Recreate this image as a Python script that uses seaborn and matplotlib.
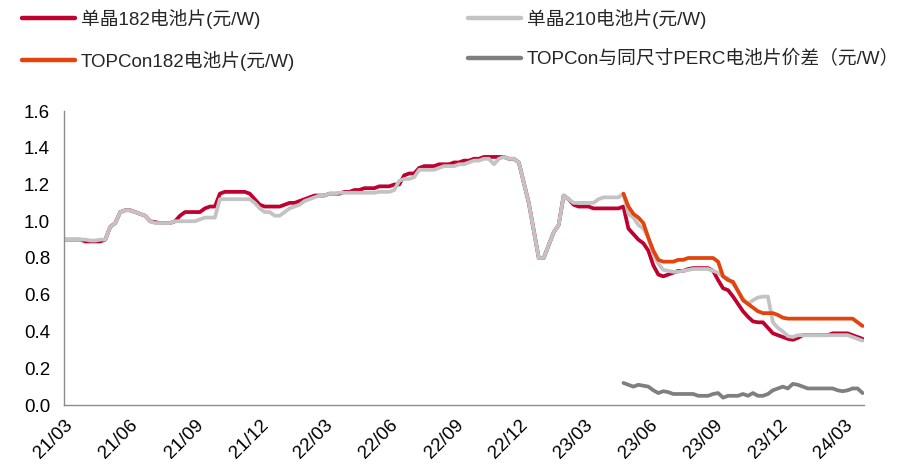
import matplotlib
matplotlib.use("Agg")
import matplotlib.pyplot as plt
import matplotlib.dates as mdates
from matplotlib.lines import Line2D
import seaborn as sns
import pandas as pd
import numpy as np

# Weekly cell prices (yuan/W)
start_all = "2021-03-03"
start_topcon = "2023-04-26"

mono182 = [
    0.90, 0.90, 0.90, 0.90, 0.89, 0.89, 0.89, 0.89, 0.90, 0.97,
    0.99, 1.05, 1.06, 1.06, 1.05, 1.04, 1.03, 1.00, 0.995, 0.99,
    0.99, 0.99, 1.00, 1.03, 1.05, 1.05, 1.05, 1.05, 1.07, 1.08,
    1.08, 1.15, 1.16, 1.16, 1.16, 1.16, 1.16, 1.15, 1.12, 1.09,
    1.08, 1.08, 1.08, 1.08, 1.09, 1.10, 1.10, 1.11, 1.12, 1.13,
    1.14, 1.14, 1.14, 1.15, 1.15, 1.15, 1.16, 1.16, 1.17, 1.17,
    1.18, 1.18, 1.18, 1.19, 1.19, 1.19, 1.20, 1.20, 1.25, 1.26,
    1.26, 1.29, 1.30, 1.30, 1.30, 1.31, 1.31, 1.31, 1.32, 1.32,
    1.33, 1.33, 1.34, 1.34, 1.35, 1.35, 1.35, 1.35, 1.35, 1.34,
    1.34, 1.32, 1.21, 1.10, 0.95, 0.80, 0.80, 0.87, 0.94, 0.98,
    1.14, 1.12, 1.09, 1.08, 1.08, 1.08, 1.07, 1.07, 1.07, 1.07,
    1.07, 1.07, 1.08, 0.96, 0.93, 0.90, 0.88, 0.84, 0.76, 0.71,
    0.70, 0.71, 0.72, 0.73, 0.73, 0.74, 0.745, 0.745, 0.745, 0.745,
    0.73, 0.68, 0.635, 0.625, 0.59, 0.55, 0.51, 0.48, 0.455, 0.45,
    0.45, 0.42, 0.39, 0.38, 0.37, 0.36, 0.355, 0.365, 0.38, 0.38,
    0.38, 0.38, 0.38, 0.38, 0.39, 0.39, 0.39, 0.39, 0.38, 0.37,
    0.36,
]

mono210 = [
    0.90, 0.90, 0.90, 0.90, 0.90, 0.895, 0.895, 0.90, 0.90, 0.97,
    0.99, 1.05, 1.06, 1.06, 1.05, 1.04, 1.03, 1.00, 0.99, 0.99,
    0.99, 0.99, 1.00, 1.00, 1.00, 1.00, 1.00, 1.01, 1.02, 1.02,
    1.02, 1.12, 1.12, 1.12, 1.12, 1.12, 1.12, 1.12, 1.10, 1.07,
    1.05, 1.05, 1.03, 1.03, 1.05, 1.07, 1.08, 1.09, 1.11, 1.12,
    1.13, 1.14, 1.14, 1.15, 1.15, 1.155, 1.155, 1.155, 1.155, 1.155,
    1.155, 1.155, 1.155, 1.16, 1.16, 1.16, 1.17, 1.22, 1.23, 1.23,
    1.24, 1.28, 1.28, 1.28, 1.28, 1.29, 1.30, 1.30, 1.30, 1.31,
    1.31, 1.32, 1.33, 1.33, 1.34, 1.34, 1.31, 1.34, 1.35, 1.34,
    1.34, 1.32, 1.21, 1.10, 0.95, 0.80, 0.80, 0.87, 0.94, 0.98,
    1.14, 1.12, 1.10, 1.10, 1.10, 1.10, 1.10, 1.12, 1.13, 1.13,
    1.13, 1.13, 1.15, 1.04, 1.02, 0.98, 0.96, 0.91, 0.82, 0.77,
    0.735, 0.73, 0.725, 0.725, 0.73, 0.735, 0.74, 0.74, 0.74, 0.74,
    0.73, 0.72, 0.70, 0.69, 0.66, 0.62, 0.58, 0.55, 0.57, 0.585,
    0.59, 0.59, 0.45, 0.42, 0.40, 0.375, 0.37, 0.38, 0.38, 0.38,
    0.38, 0.38, 0.38, 0.38, 0.38, 0.38, 0.38, 0.38, 0.37, 0.36,
    0.35,
]

topcon182 = [
    1.15, 1.08, 1.04, 1.02, 0.99, 0.91, 0.84, 0.79,
    0.78, 0.78, 0.78, 0.79, 0.79, 0.80, 0.80, 0.80, 0.80, 0.80,
    0.80, 0.78, 0.70, 0.68, 0.67, 0.62, 0.57, 0.55, 0.53, 0.51,
    0.50, 0.50, 0.50, 0.49, 0.475, 0.47, 0.47, 0.47, 0.47, 0.47,
    0.47, 0.47, 0.47, 0.47, 0.47, 0.47, 0.47, 0.47, 0.47, 0.45,
    0.43,
]

topcon_perc_spread = [
    0.12, 0.11, 0.10, 0.11, 0.105, 0.10, 0.08, 0.065,
    0.075, 0.07, 0.06, 0.06, 0.06, 0.06, 0.06, 0.05, 0.05, 0.05,
    0.06, 0.065, 0.04, 0.05, 0.05, 0.05, 0.06, 0.05, 0.065, 0.05,
    0.05, 0.06, 0.08, 0.09, 0.10, 0.09, 0.115, 0.11, 0.10, 0.09,
    0.09, 0.09, 0.09, 0.09, 0.09, 0.08, 0.075, 0.08, 0.09, 0.09,
    0.065,
]

labels = [
    "单晶182电池片(元/W)",
    "单晶210电池片(元/W)",
    "TOPCon182电池片(元/W)",
    "TOPCon与同尺寸PERC电池片价差（元/W）",
]
colors = ["#C0002F", "#C3C3C3", "#E2440C", "#7F7F7F"]

y_ticks = [0.0, 0.2, 0.4, 0.6, 0.8, 1.0, 1.2, 1.4, 1.6]

frames = []
for lab, vals, st in [
    (labels[0], mono182, start_all),
    (labels[1], mono210, start_all),
    (labels[2], topcon182, start_topcon),
    (labels[3], topcon_perc_spread, start_topcon),
]:
    d = pd.date_range(st, periods=len(vals), freq="7D")
    frames.append(pd.DataFrame({"date": d, "value": vals, "series": lab}))
df = pd.concat(frames, ignore_index=True)

sns.set_style("white")
plt.rcParams["font.family"] = ["Liberation Sans", "Noto Sans CJK SC"]

W, H = 901, 469
fig = plt.figure(figsize=(W / 100, H / 100), dpi=100)
ax = fig.add_axes([64 / W, 1 - 405 / H, 800 / W, 294 / H])

palette = dict(zip(labels, colors))
sns.lineplot(data=df, x="date", y="value", hue="series", hue_order=labels,
             palette=palette, linewidth=2.7, ax=ax, legend=False,
             estimator=None, sort=True)

ax.set_xlim(pd.Timestamp("2021-03-01"), pd.Timestamp("2024-03-29"))
ax.set_ylim(0, 1.6)
ax.set_yticks(y_ticks)
ax.yaxis.set_major_formatter(matplotlib.ticker.FormatStrFormatter("%.1f"))
ax.xaxis.set_major_locator(mdates.MonthLocator(bymonth=[3, 6, 9, 12]))
ax.xaxis.set_major_formatter(mdates.DateFormatter("%y/%m"))
ax.set_xlabel("")
ax.set_ylabel("")

for s in ["top", "right"]:
    ax.spines[s].set_visible(False)
for s in ["left", "bottom"]:
    ax.spines[s].set_color("#8C8C8C")
    ax.spines[s].set_linewidth(1.0)

ax.tick_params(axis="both", which="major", direction="out", length=5,
               width=1.0, color="#8C8C8C", labelsize=13.5, labelcolor="black")
ax.tick_params(axis="y", pad=5)
ax.tick_params(axis="x", pad=3)
for t in ax.get_xticklabels():
    t.set_rotation(45)
    t.set_ha("right")
    t.set_rotation_mode("anchor")

handles = [Line2D([], [], color=c, linewidth=3.2) for c in colors]
leg_kw = dict(frameon=False, fontsize=13.5, handlelength=2.85,
              handletextpad=0.28, labelspacing=1.15, borderpad=0,
              borderaxespad=0, loc="upper left")
fig.legend([handles[0], handles[2]], [labels[0], labels[2]],
           bbox_to_anchor=(22 / W, 1 - 9 / H), **leg_kw)
fig.legend([handles[1], handles[3]], [labels[1], labels[3]],
           bbox_to_anchor=(468 / W, 1 - 9 / H), **leg_kw)

fig.savefig("out.png", dpi=100)
